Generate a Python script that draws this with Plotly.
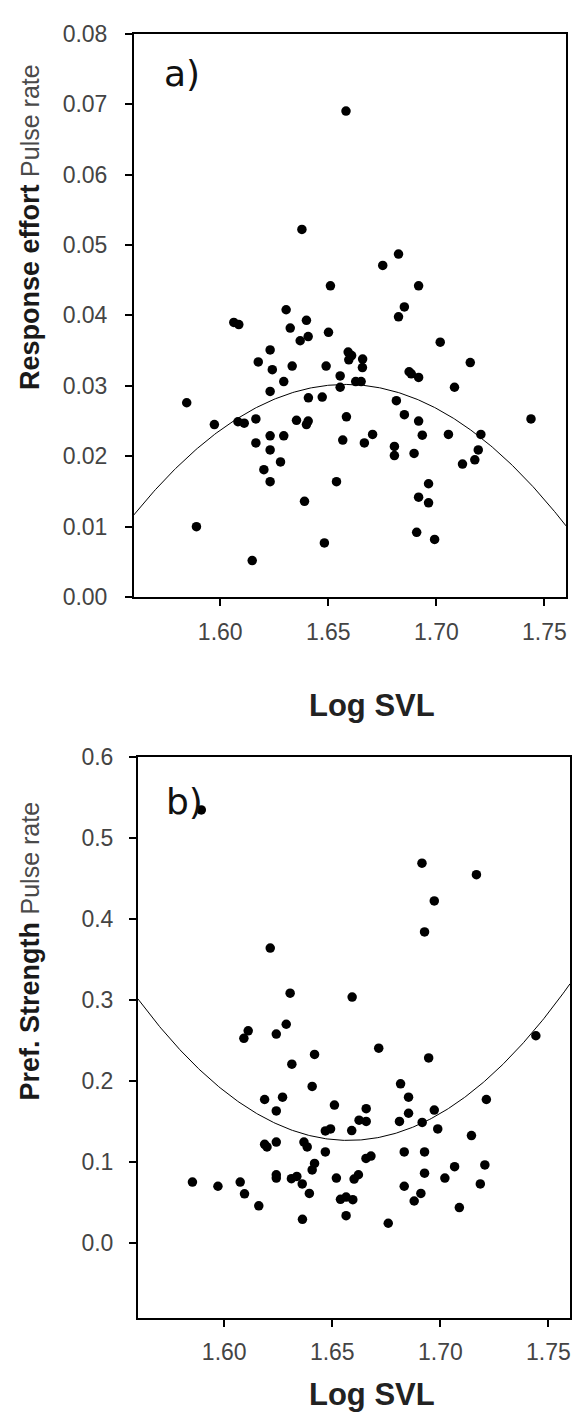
import numpy as np
import plotly.graph_objects as go

# ---------------- Data: panel a (Response effort, pulse rate) ----------------
a_x = [1.6582, 1.6378, 1.6825, 1.6752, 1.6918, 1.6510, 1.6852, 1.6825, 1.6305, 1.6063,
       1.6086, 1.6399, 1.6324, 1.6501, 1.6407, 1.6370, 1.7018, 1.6231, 1.7157, 1.6176,
       1.6592, 1.6608, 1.6595, 1.6659, 1.6241, 1.6333, 1.6490, 1.6658, 1.6874, 1.6884,
       1.6918, 1.7084, 1.6555, 1.6294, 1.6555, 1.6627, 1.6652, 1.6231, 1.5845, 1.6408,
       1.6472, 1.6815, 1.5973, 1.6082, 1.6111, 1.6165, 1.6353, 1.6407, 1.6399, 1.6584,
       1.6852, 1.6918, 1.7438, 1.6231, 1.6294, 1.6165, 1.6231, 1.6279, 1.6202, 1.6231,
       1.6567, 1.6667, 1.6705, 1.6935, 1.7056, 1.7206, 1.7194, 1.6806, 1.6806, 1.6897,
       1.7121, 1.7178, 1.6538, 1.6964, 1.6918, 1.6964, 1.6390, 1.5890, 1.6909, 1.6992,
       1.6482, 1.6148]
a_y = [0.0690, 0.0522, 0.0487, 0.0471, 0.0442, 0.0442, 0.0412, 0.0398, 0.0408, 0.0390,
       0.0387, 0.0393, 0.0382, 0.0376, 0.0370, 0.0364, 0.0362, 0.0351, 0.0333, 0.0334,
       0.0348, 0.0343, 0.0337, 0.0338, 0.0323, 0.0328, 0.0328, 0.0326, 0.0320, 0.0317,
       0.0312, 0.0298, 0.0314, 0.0306, 0.0298, 0.0306, 0.0306, 0.0292, 0.0276, 0.0283,
       0.0284, 0.0279, 0.0245, 0.0249, 0.0247, 0.0253, 0.0251, 0.0250, 0.0245, 0.0256,
       0.0259, 0.0250, 0.0253, 0.0229, 0.0229, 0.0219, 0.0209, 0.0192, 0.0181, 0.0164,
       0.0223, 0.0219, 0.0231, 0.0230, 0.0231, 0.0231, 0.0209, 0.0214, 0.0201, 0.0204,
       0.0189, 0.0195, 0.0164, 0.0161, 0.0142, 0.0134, 0.0136, 0.0100, 0.0092, 0.0082,
       0.0077, 0.0052]

# quadratic fit (vertex form)
a_fit_peak_x = 1.658
a_fit_peak_y = 0.0302
a_fit_curv = 1.93

# ---------------- Data: panel b (Pref. strength, pulse rate) ----------------
b_x = [1.5894, 1.6915, 1.7167, 1.6972, 1.6927, 1.6213, 1.6305, 1.6592, 1.6111, 1.6091,
       1.6241, 1.6287, 1.7442, 1.6715, 1.6418, 1.6946, 1.6313, 1.6407, 1.6816, 1.6187,
       1.6270, 1.6241, 1.6510, 1.6853, 1.7213, 1.6657, 1.6853, 1.6972, 1.6624, 1.6657,
       1.6811, 1.6916, 1.6988, 1.6468, 1.6492, 1.6590, 1.6187, 1.6198, 1.6241, 1.6369,
       1.6384, 1.7144, 1.6468, 1.6833, 1.6927, 1.6656, 1.6679, 1.6418, 1.6407, 1.7206,
       1.7066, 1.6241, 1.6241, 1.6311, 1.6336, 1.6361, 1.6394, 1.6519, 1.6601, 1.6621,
       1.6927, 1.7021, 1.6833, 1.6910, 1.6879, 1.7185, 1.7088, 1.5853, 1.5971, 1.6074,
       1.6094, 1.6160, 1.6538, 1.6564, 1.6595, 1.6362, 1.6564, 1.6759]
b_y = [0.5343, 0.4685, 0.4543, 0.4220, 0.3836, 0.3638, 0.3081, 0.3033, 0.2616, 0.2523,
       0.2576, 0.2697, 0.2555, 0.2402, 0.2325, 0.2281, 0.2204, 0.1929, 0.1961, 0.1768,
       0.1796, 0.1627, 0.1699, 0.1796, 0.1768, 0.1655, 0.1598, 0.1638, 0.1513, 0.1497,
       0.1497, 0.1485, 0.1404, 0.1380, 0.1404, 0.1384, 0.1215, 0.1182, 0.1242, 0.1242,
       0.1182, 0.1323, 0.1121, 0.1121, 0.1121, 0.1040, 0.1069, 0.0979, 0.0899, 0.0960,
       0.0939, 0.0839, 0.0798, 0.0790, 0.0818, 0.0725, 0.0608, 0.0798, 0.0786, 0.0839,
       0.0858, 0.0798, 0.0697, 0.0608, 0.0515, 0.0725, 0.0434, 0.0749, 0.0697, 0.0749,
       0.0604, 0.0455, 0.0536, 0.0564, 0.0531, 0.0289, 0.0333, 0.0240]

b_fit_peak_x = 1.6575
b_fit_peak_y = 0.1263
b_fit_curv = 18.4

x_ticks = [1.60, 1.65, 1.70, 1.75]
a_yticks = [0.00, 0.01, 0.02, 0.03, 0.04, 0.05, 0.06, 0.07, 0.08]
b_yticks = [0.0, 0.1, 0.2, 0.3, 0.4, 0.5, 0.6]

# ---------------- Figure ----------------
W, H = 574, 1427


def px(x):
    return x / W


def py(y):
    return 1 - y / H


xs = np.linspace(1.56, 1.76, 300)
a_curve = a_fit_peak_y - a_fit_curv * (xs - a_fit_peak_x) ** 2
b_curve = b_fit_peak_y + b_fit_curv * (xs - b_fit_peak_x) ** 2

fig = go.Figure()
mk = dict(size=9.5, color="black", line=dict(width=0))
fig.add_trace(go.Scatter(x=a_x, y=a_y, mode="markers", marker=mk, xaxis="x", yaxis="y"))
fig.add_trace(go.Scatter(x=xs, y=a_curve, mode="lines", line=dict(color="black", width=1),
                         xaxis="x", yaxis="y"))
fig.add_trace(go.Scatter(x=b_x, y=b_y, mode="markers", marker=mk, xaxis="x2", yaxis="y2"))
fig.add_trace(go.Scatter(x=xs, y=b_curve, mode="lines", line=dict(color="black", width=1),
                         xaxis="x2", yaxis="y2"))

tick_font = dict(family="Liberation Sans, Arial, sans-serif", size=23, color="#444")
axis_common = dict(showline=True, linecolor="black", linewidth=1.5, mirror=True,
                   ticks="outside", ticklen=7, tickwidth=1.5, tickcolor="black",
                   showgrid=False, zeroline=False, tickfont=tick_font)

fig.update_layout(
    width=W, height=H, margin=dict(l=0, r=0, t=0, b=0),
    paper_bgcolor="white", plot_bgcolor="white", showlegend=False,
    xaxis=dict(domain=[px(134), px(567)], range=[1.56, 1.76], anchor="y",
               tickvals=x_ticks, tickformat=".2f", ticklabelstandoff=6, **axis_common),
    yaxis=dict(domain=[py(595), py(21)], range=[0, 0.08], anchor="x",
               tickvals=a_yticks, tickformat=".2f", ticklabelstandoff=13, **axis_common),
    xaxis2=dict(domain=[px(138), px(571)], range=[1.56, 1.76], anchor="y2",
                tickvals=x_ticks, tickformat=".2f", ticklabelstandoff=6, **axis_common),
    yaxis2=dict(domain=[py(1329), py(757.5)], range=[-0.0927, 0.6], anchor="x2",
                tickvals=b_yticks, tickformat=".1f", ticklabelstandoff=11, **axis_common),
)

title_font = dict(family="Liberation Sans, Arial, sans-serif", size=31, color="#222")
panel_font = dict(family="DejaVu Sans, sans-serif", size=36, color="#111")
ytitle_font = dict(family="Liberation Sans, Arial, sans-serif", size=27, color="#1a1a1a")
pulse = "<span style='font-size:25px;color:#4a4a4a'>Pulse rate</span>"

ann = [
    dict(text="a)", x=px(162), y=py(62), xanchor="left", yanchor="middle", font=panel_font),
    dict(text="b)", x=px(164), y=py(803), xanchor="left", yanchor="middle", font=panel_font),
    dict(text="<b>Log SVL</b>", x=px(373), y=py(705), xanchor="center", yanchor="middle",
         font=title_font),
    dict(text="<b>Log SVL</b>", x=px(373), y=py(1407), xanchor="center", yanchor="middle",
         font=title_font),
    dict(text="<b>Response effort</b> " + pulse,
         x=px(30), y=py(218), xanchor="center", yanchor="middle", textangle=-90,
         font=ytitle_font),
    dict(text="<b>Pref. Strength</b> " + pulse,
         x=px(30), y=py(955), xanchor="center", yanchor="middle", textangle=-90,
         font=ytitle_font),
]
for a in ann:
    a.update(xref="paper", yref="paper", showarrow=False)
fig.update_layout(annotations=ann)

fig.write_html("out.html")
